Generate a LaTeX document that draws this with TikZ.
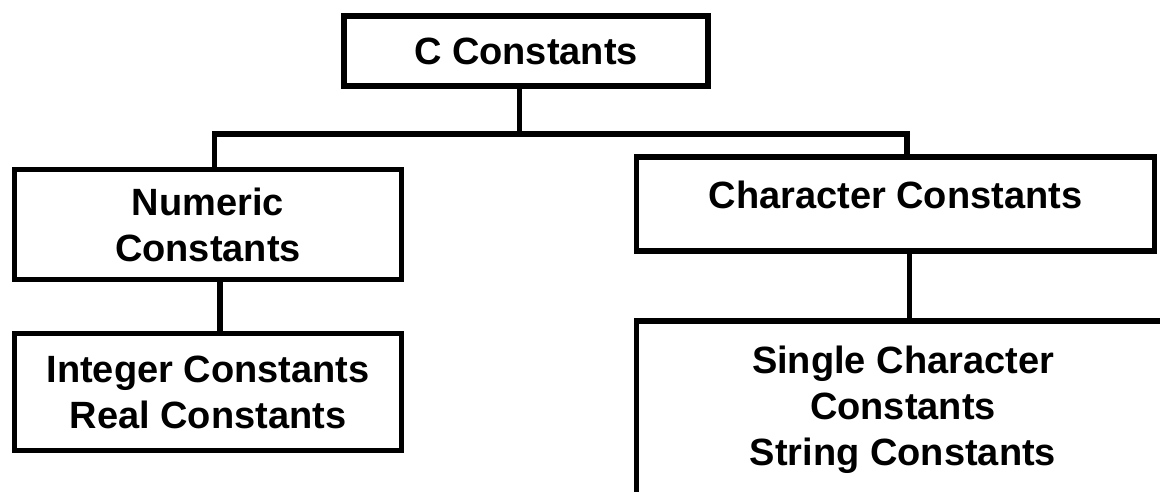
\documentclass[tikz,border=0pt]{standalone}
\usepackage{fontspec}
\setmainfont{Liberation Sans}
\usepackage{tikz}
\usetikzlibrary{positioning}

\begin{document}
\begin{tikzpicture}[x=1pt, y=-1pt,
    box/.style={draw, line width=5.7pt, inner sep=0pt, align=center,
      font=\bfseries\fontsize{38}{46}\selectfont},
    link/.style={line width=5.7pt}]
  \useasboundingbox (0,0) rectangle (1160,491);
  \clip (0,0) rectangle (1160,491);

  % Root of the tree
  \node[box, minimum width=364pt, minimum height=70pt] (root) at (526,51) {C Constants};

  % Second level
  \node[box, minimum width=387pt, minimum height=110pt] (numeric) at (208,224.5) {Numeric\\Constants};
  \node[box, minimum width=518pt, minimum height=94pt, text height=28pt, text depth=20pt] (charc) at (895.5,204) {Character Constants};

  % Leaves
  \node[box, minimum width=387pt, minimum height=117pt] (intreal) at (208,392) {Integer Constants\\Real Constants};
  \node[box, minimum width=533pt, minimum height=178pt] (single) at (903,410) {Single Character\\Constants\\String Constants};

  % Bus between the levels
  \coordinate (bus) at (519.5,134);
  \coordinate (busL) at (214.5,134);
  \coordinate (busR) at (907,134);
  \coordinate (numdrop) at (220,300);
  \coordinate (chardrop) at (909.5,285);

  \draw[link] (root.south -| bus) -- (bus);
  \draw[link] (numeric.north -| busL) -- (busL) -- (busR) -- (charc.north -| busR);
  \draw[link] (numeric.south -| numdrop) -- (intreal.north -| numdrop);
  \draw[link] (charc.south -| chardrop) -- (single.north -| chardrop);
\end{tikzpicture}
\end{document}
